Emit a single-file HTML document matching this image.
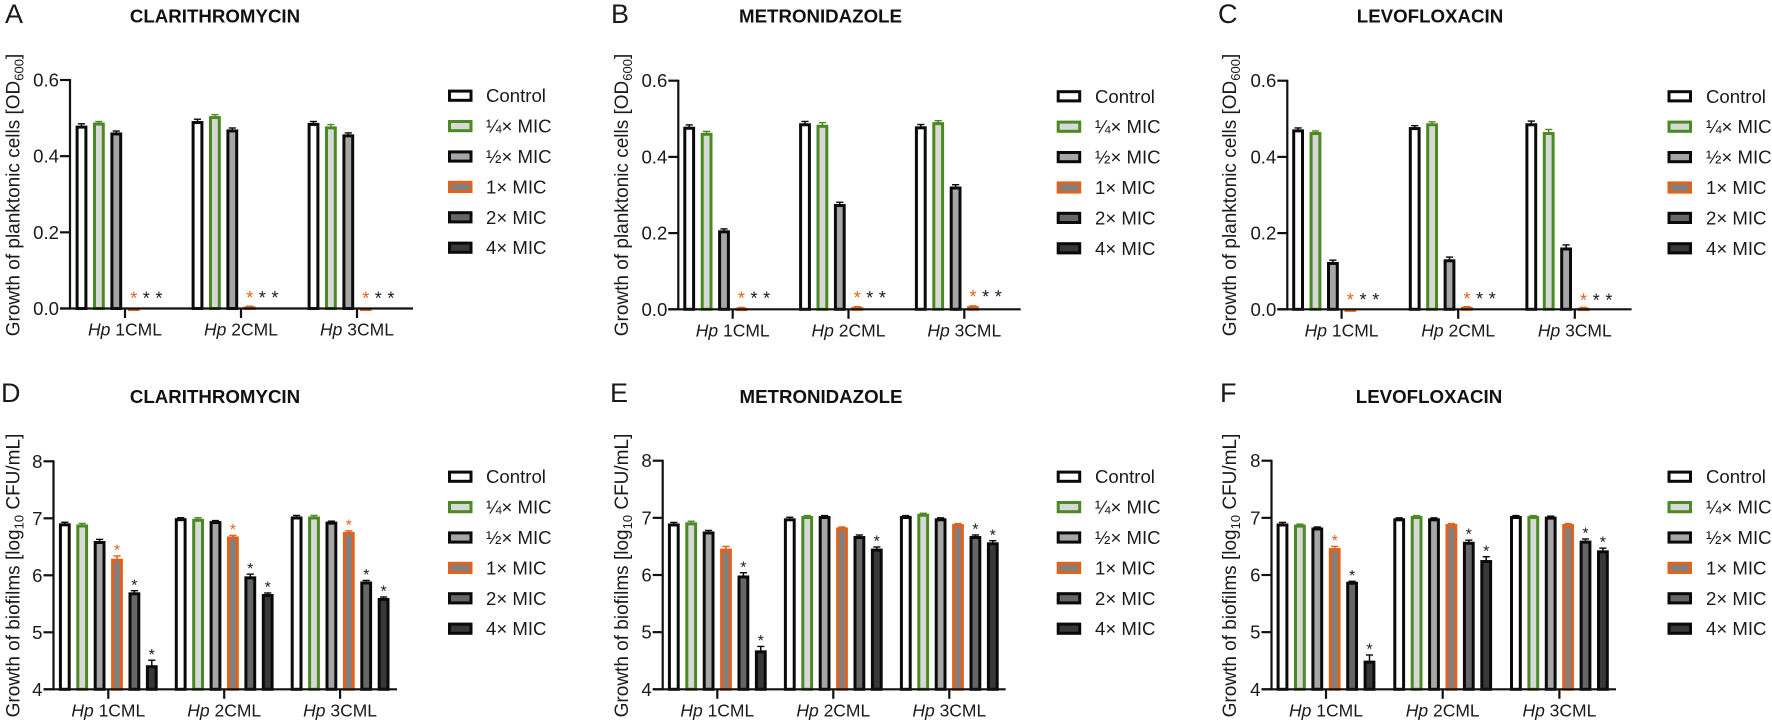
<!DOCTYPE html>
<html lang="en">
<head>
<meta charset="utf-8">
<title>Growth of planktonic cells and biofilms under antibiotic exposure</title>
<style>
html,body{margin:0;padding:0;background:#fff;}
svg{display:block;font-family:"Liberation Sans",Arial,sans-serif;fill:#1a1a1a;}
.letter{font-size:27px;}
.title{font-size:18.7px;font-weight:bold;text-anchor:middle;fill:#111;}
.ylab{font-size:19px;text-anchor:middle;}
</style>
</head>
<body>
<svg id="figure" width="1772" height="723" viewBox="0 0 1772 723" xmlns="http://www.w3.org/2000/svg">
  <g>
    <text class="letter" x="5" y="23">A</text>
    <text class="title" x="215" y="22.5">CLARITHROMYCIN</text>
    <text class="ylab" transform="translate(19.5,195) rotate(-90)">Growth of planktonic cells [OD<tspan font-size="13" dy="4">600</tspan><tspan dy="-4">]</tspan></text>
  </g>
  <g>
    <text class="letter" x="611" y="23">B</text>
    <text class="title" x="820.5" y="22.5">METRONIDAZOLE</text>
    <text class="ylab" transform="translate(628,195) rotate(-90)">Growth of planktonic cells [OD<tspan font-size="13" dy="4">600</tspan><tspan dy="-4">]</tspan></text>
  </g>
  <g>
    <text class="letter" x="1218" y="23">C</text>
    <text class="title" x="1430" y="22.5">LEVOFLOXACIN</text>
    <text class="ylab" transform="translate(1236,195) rotate(-90)">Growth of planktonic cells [OD<tspan font-size="13" dy="4">600</tspan><tspan dy="-4">]</tspan></text>
  </g>
  <g>
    <text class="letter" x="1" y="402">D</text>
    <text class="title" x="215" y="403">CLARITHROMYCIN</text>
    <text class="ylab" transform="translate(19.5,575.5) rotate(-90)">Growth of biofilms [log<tspan font-size="13" dy="4">10</tspan><tspan dy="-4"> CFU/mL]</tspan></text>
  </g>
  <g>
    <text class="letter" x="610" y="402">E</text>
    <text class="title" x="821" y="403">METRONIDAZOLE</text>
    <text class="ylab" transform="translate(628,575.5) rotate(-90)">Growth of biofilms [log<tspan font-size="13" dy="4">10</tspan><tspan dy="-4"> CFU/mL]</tspan></text>
  </g>
  <g>
    <text class="letter" x="1220" y="402">F</text>
    <text class="title" x="1429" y="403">LEVOFLOXACIN</text>
    <text class="ylab" transform="translate(1236,575.5) rotate(-90)">Growth of biofilms [log<tspan font-size="13" dy="4">10</tspan><tspan dy="-4"> CFU/mL]</tspan></text>
  </g>
</svg>
<script>
// ---- categories, legend, ticks ----
const strains = ['1CML', '2CML', '3CML'];
const seriesNames = ['Control', '¼× MIC', '½× MIC', '1× MIC', '2× MIC', '4× MIC'];
const planktonicTicks = ['0.0', '0.2', '0.4', '0.6'];
const biofilmTicks = ['4', '5', '6', '7', '8'];

// ---- planktonic growth (OD600): one row per strain, one value per series ----
const valuesA = [[0.480, 0.488, 0.462, 0.002, 0, 0], [0.492, 0.505, 0.470, 0.005, 0, 0], [0.487, 0.478, 0.457, 0.002, 0, 0]];
const errorsA = [[0.005, 0.003, 0.004, 0, 0, 0], [0.005, 0.004, 0.004, 0.001, 0, 0], [0.004, 0.005, 0.004, 0, 0, 0]];
const valuesB = [[0.479, 0.463, 0.207, 0.004, 0, 0], [0.488, 0.484, 0.276, 0.006, 0, 0], [0.480, 0.491, 0.322, 0.008, 0, 0]];
const errorsB = [[0.005, 0.004, 0.004, 0.001, 0, 0], [0.005, 0.006, 0.005, 0.001, 0, 0], [0.005, 0.004, 0.005, 0.001, 0, 0]];
const valuesC = [[0.472, 0.465, 0.124, 0.002, 0, 0], [0.478, 0.488, 0.131, 0.006, 0, 0], [0.488, 0.465, 0.162, 0.004, 0, 0]];
const errorsC = [[0.004, 0.003, 0.005, 0, 0, 0], [0.004, 0.004, 0.006, 0.001, 0, 0], [0.006, 0.007, 0.007, 0.001, 0, 0]];

// ---- biofilm growth (log10 CFU/mL) ----
const valuesD = [[6.91, 6.89, 6.60, 6.29, 5.70, 4.42], [7.00, 6.99, 6.95, 6.68, 5.98, 5.67], [7.03, 7.03, 6.94, 6.76, 5.89, 5.60]];
const errorsD = [[0.02, 0.02, 0.03, 0.05, 0.03, 0.09], [0.01, 0.02, 0.01, 0.02, 0.04, 0.02], [0.02, 0.02, 0.01, 0.02, 0.02, 0.02]];
const valuesE = [[6.90, 6.92, 6.76, 6.46, 5.99, 4.68], [6.99, 7.03, 7.03, 6.83, 6.68, 6.46], [7.03, 7.07, 6.99, 6.89, 6.68, 6.57]];
const errorsE = [[0.02, 0.02, 0.02, 0.04, 0.05, 0.07], [0.02, 0.01, 0.01, 0.01, 0.02, 0.03], [0.01, 0.01, 0.01, 0.01, 0.02, 0.03]];
const valuesF = [[6.90, 6.88, 6.83, 6.47, 5.88, 4.50], [6.99, 7.03, 6.99, 6.89, 6.58, 6.26], [7.03, 7.03, 7.02, 6.89, 6.60, 6.43]];
const errorsF = [[0.02, 0.01, 0.01, 0.03, 0.01, 0.10], [0.01, 0.01, 0.01, 0.01, 0.03, 0.06], [0.01, 0.01, 0.01, 0.01, 0.03, 0.04]];

// ---- significance markers ----
// planktonic panels: height of the "* * *" row per strain, OD600 units
const starLevelA = [0.038, 0.040, 0.038];
const starLevelB = [0.040, 0.042, 0.044];
const starLevelC = [0.037, 0.039, 0.035];
// biofilm panels: which series carry a star, per strain
const starSeriesD = [[3, 4, 5], [3, 4, 5], [3, 4, 5]];
const starSeriesE = [[4, 5], [5], [4, 5]];
const starSeriesF = [[3, 4, 5], [4, 5], [4, 5]];

const fills = ['#ffffff', '#d8d8d8', '#a6a6a6', '#808080', '#666666', '#383838'];
const strokes = ['#0a0a0a', '#4b8a22', '#0a0a0a', '#e2621b', '#0a0a0a', '#0a0a0a'];
const ORANGE = '#e2621b';

const panels = [
  {id: 'a', axisX: 70, right: 413, top: 80, base: 308.5, groupX: 125, groupStep: 116, barStep: 17.4, barW: 11.8, starStep: 12.6, tickLabels: planktonicTicks, yMin: 0, yMax: 0.6, values: valuesA, errors: errorsA, starLevel: starLevelA, legendX: 448, legendTextX: 486, legendW: 24.5, legendY: 95.7},
  {id: 'b', axisX: 678.3, right: 1020.7, top: 80.7, base: 309.3, groupX: 732.7, groupStep: 115.8, barStep: 17.4, barW: 11.8, starStep: 12.6, tickLabels: planktonicTicks, yMin: 0, yMax: 0.6, values: valuesB, errors: errorsB, starLevel: starLevelB, legendX: 1056.7, legendTextX: 1095, legendW: 24.5, legendY: 96.3},
  {id: 'c', axisX: 1287.3, right: 1631.6, top: 80.7, base: 309.3, groupX: 1341.6, groupStep: 116.6, barStep: 17.4, barW: 11.8, starStep: 12.7, tickLabels: planktonicTicks, yMin: 0, yMax: 0.6, values: valuesC, errors: errorsC, starLevel: starLevelC, legendX: 1667.5, legendTextX: 1706, legendW: 24.5, legendY: 96.3},
  {id: 'd', axisX: 53.5, right: 397, top: 461.3, base: 689.3, groupX: 108.3, groupStep: 115.9, barStep: 17.4, barW: 11.8, tickLabels: biofilmTicks, yMin: 4, yMax: 8, values: valuesD, errors: errorsD, starSeries: starSeriesD, legendX: 448, legendTextX: 486, legendW: 24.5, legendY: 476.7},
  {id: 'e', axisX: 662.7, right: 1005.7, top: 460.7, base: 689.3, groupX: 717.3, groupStep: 116, barStep: 17.4, barW: 11.8, tickLabels: biofilmTicks, yMin: 4, yMax: 8, values: valuesE, errors: errorsE, starSeries: starSeriesE, legendX: 1056.7, legendTextX: 1095, legendW: 24.5, legendY: 476.7},
  {id: 'f', axisX: 1271.5, right: 1616, top: 460.7, base: 689.3, groupX: 1326, groupStep: 116.7, barStep: 17.4, barW: 11.8, tickLabels: biofilmTicks, yMin: 4, yMax: 8, values: valuesF, errors: errorsF, starSeries: starSeriesF, legendX: 1667.5, legendTextX: 1706, legendW: 24.5, legendY: 476.7}
];

const NS = 'http://www.w3.org/2000/svg';
const figure = document.getElementById('figure');

function make(tag, parent) {
  const el = document.createElementNS(NS, tag);
  parent.appendChild(el);
  return el;
}
function setAll(el, props) {
  for (const k in props) el.setAttribute(k, props[k]);
}
function line(parent, x1, y1, x2, y2, color, width) {
  const l = make('line', parent);
  setAll(l, {x1: x1, y1: y1, x2: x2, y2: y2, stroke: color, 'stroke-width': width});
  return l;
}
function label(parent, x, y, str, size, anchor, color) {
  const t = make('text', parent);
  setAll(t, {x: x, y: y, 'font-size': size, 'text-anchor': anchor, fill: color});
  t.textContent = str;
  return t;
}

panels.forEach(function (p) {
  const yScale = function (v) {
    return p.base - (v - p.yMin) / (p.yMax - p.yMin) * (p.base - p.top);
  };
  const xScale = function (g, s) {
    return p.groupX + g * p.groupStep + (s - 2.5) * p.barStep;
  };
  const group = make('g', figure);
  
  

  // bars and error bars
  const barSW = 3;
  p.values.forEach(function (row, g) {
    row.forEach(function (v, s) {
      if (v <= p.yMin) return;
      const cx = xScale(g, s);
      const yTop = yScale(v);
      const err = p.errors[g][s];
      if (err > 0) {
        const errTop = yScale(v + err);
        const stem = line(group, cx, errTop, cx, yTop + 1, strokes[s], 1.5);
        
        
        const cap = line(group, cx - 3.6, errTop, cx + 3.6, errTop, strokes[s], 1.4);
        
        
      }
      const bar = make('rect', group);
      
      
      setAll(bar, {
        x: cx - (p.barW - barSW) / 2,
        y: yTop + 1.4,
        width: p.barW - barSW,
        height: Math.max(p.base - yTop - 1.4, 0.4),
        fill: fills[s],
        stroke: strokes[s],
        'stroke-width': barSW
      });
    });
  });

  // significance stars
  if (p.starLevel) {
    p.starLevel.forEach(function (level, g) {
      [0, 1, 2].forEach(function (i) {
        const sx = xScale(g, 3) + i * p.starStep;
        const star = label(group, sx, yScale(level) + 10.6, '*', 18, 'middle', i === 0 ? ORANGE : '#1a1a1a');
        
        
      });
    });
  } else {
    p.starSeries.forEach(function (list, g) {
      list.forEach(function (s) {
        const topV = p.values[g][s] + p.errors[g][s];
        const star = label(group, xScale(g, s), yScale(topV) - 0.4, '*', 16, 'middle', s === 3 ? ORANGE : '#1a1a1a');
        
        
      });
    });
  }

  // y axis
  const yAxis = line(group, p.axisX, p.top - 1, p.axisX, p.base + 1, '#111', 2.2);
  
  
  p.tickLabels.forEach(function (tl) {
    const ty = yScale(parseFloat(tl));
    const tick = line(group, p.axisX - 10, ty, p.axisX, ty, '#111', 2.2);
    
    
    const txt = label(group, p.axisX - 11, ty + 6.5, tl, 18.6, 'end', '#1a1a1a');
    
    
  });

  // x axis
  const xAxis = line(group, p.axisX - 10, p.base, p.right, p.base, '#111', 2.2);
  
  
  strains.forEach(function (name, g) {
    const gx = p.groupX + g * p.groupStep;
    const tick = line(group, gx, p.base, gx, p.base + 9.5, '#111', 2.2);
    
    
    const txt = make('text', group);
    
    
    setAll(txt, {x: gx, y: p.base + 27.2, 'font-size': 17.5, 'text-anchor': 'middle', fill: '#1a1a1a'});
    const hp = make('tspan', txt);
    hp.setAttribute('font-style', 'italic');
    hp.textContent = 'Hp';
    const rest = make('tspan', txt);
    rest.textContent = ' ' + name;
  });

  // legend
  const legend = make('g', group);
  
  
  seriesNames.forEach(function (name, s) {
    const cy = p.legendY + s * 30.4;
    const entry = make('g', legend);
    
    
    const sw = make('rect', entry);
    
    
    setAll(sw, {x: p.legendX + 1.5, y: cy - 4.6, width: p.legendW - 3, height: 9.2, fill: fills[s], stroke: strokes[s], 'stroke-width': 3});
    const txt = label(entry, p.legendTextX, cy + 6.5, name, 18.6, 'start', '#1a1a1a');
    
    
  });
});
</script>
</body>
</html>
